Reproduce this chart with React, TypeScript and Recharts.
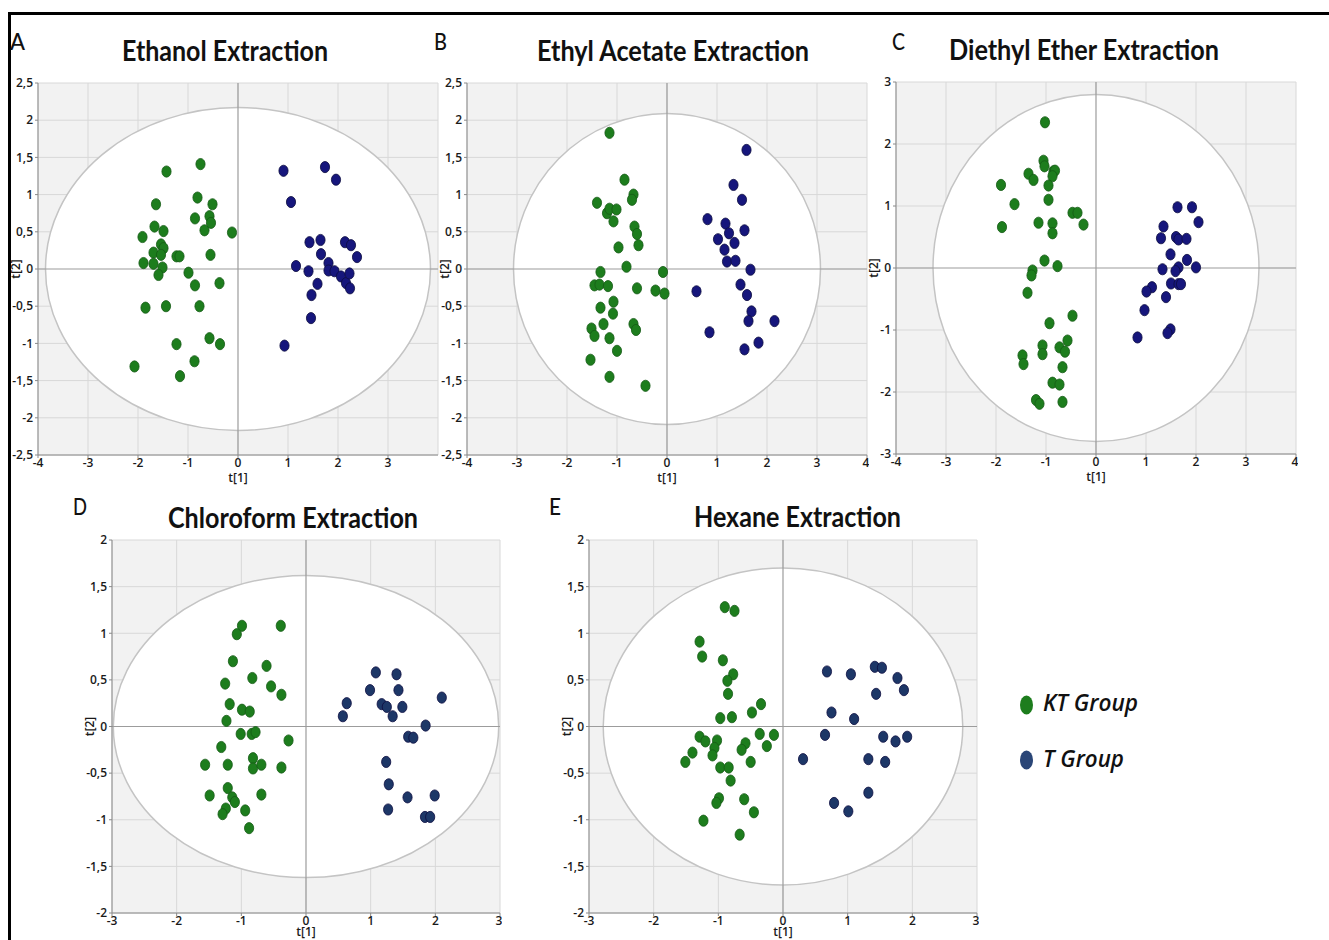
import { ScatterChart, Scatter, XAxis, YAxis, CartesianGrid, ReferenceArea, ReferenceLine } from 'recharts'

type Pt = { x: number; y: number }

// t[1] / t[2] scores
const ethanolKT: Pt[] = [
  { x: -2.07, y: -1.31 }, { x: -1.85, y: -0.52 }, { x: -1.91, y: 0.43 }, { x: -1.89, y: 0.08 },
  { x: -1.64, y: 0.87 }, { x: -1.67, y: 0.57 }, { x: -1.43, y: 1.31 }, { x: -1.49, y: 0.51 },
  { x: -1.69, y: 0.22 }, { x: -1.69, y: 0.07 }, { x: -1.54, y: 0.33 }, { x: -1.49, y: 0.28 },
  { x: -1.54, y: 0.19 }, { x: -1.51, y: 0.02 }, { x: -1.59, y: -0.08 }, { x: -1.44, y: -0.5 },
  { x: -1.23, y: 0.17 }, { x: -1.17, y: 0.17 }, { x: -1.23, y: -1.01 }, { x: -1.16, y: -1.44 },
  { x: -0.99, y: -0.05 }, { x: -0.86, y: -0.22 }, { x: -0.87, y: -1.24 }, { x: -0.81, y: 0.96 },
  { x: -0.86, y: 0.68 }, { x: -0.75, y: 1.41 }, { x: -0.77, y: -0.5 }, { x: -0.67, y: 0.52 },
  { x: -0.57, y: 0.71 }, { x: -0.54, y: 0.62 }, { x: -0.51, y: 0.87 }, { x: -0.55, y: 0.19 },
  { x: -0.57, y: -0.93 }, { x: -0.37, y: -0.19 }, { x: -0.36, y: -1.01 }, { x: -0.12, y: 0.49 },
]
const ethanolT: Pt[] = [
  { x: 0.91, y: 1.32 }, { x: 1.06, y: 0.9 }, { x: 1.16, y: 0.04 }, { x: 0.93, y: -1.03 },
  { x: 1.41, y: -0.03 }, { x: 1.43, y: 0.36 }, { x: 1.47, y: -0.35 }, { x: 1.46, y: -0.66 },
  { x: 1.59, y: -0.2 }, { x: 1.66, y: 0.2 }, { x: 1.65, y: 0.39 }, { x: 1.74, y: 1.37 },
  { x: 1.81, y: 0.08 }, { x: 1.81, y: -0.02 }, { x: 1.93, y: -0.03 }, { x: 1.96, y: 1.2 },
  { x: 2.06, y: -0.1 }, { x: 2.14, y: 0.36 }, { x: 2.16, y: -0.19 }, { x: 2.23, y: -0.06 },
  { x: 2.26, y: 0.32 }, { x: 2.24, y: -0.26 }, { x: 2.38, y: 0.16 },
]

const acetateKT: Pt[] = [
  { x: -1.15, y: 1.83 }, { x: -0.85, y: 1.2 }, { x: -1.4, y: 0.89 }, { x: -1.2, y: 0.75 },
  { x: -1.15, y: 0.81 }, { x: -1.01, y: 0.8 }, { x: -1.07, y: 0.64 }, { x: -0.67, y: 1.0 },
  { x: -0.7, y: 0.93 }, { x: -0.65, y: 0.57 }, { x: -0.6, y: 0.47 }, { x: -0.57, y: 0.32 },
  { x: -0.97, y: 0.29 }, { x: -0.81, y: 0.03 }, { x: -1.33, y: -0.04 }, { x: -1.45, y: -0.22 },
  { x: -1.35, y: -0.21 }, { x: -1.18, y: -0.23 }, { x: -0.6, y: -0.26 }, { x: -1.07, y: -0.44 },
  { x: -1.33, y: -0.52 }, { x: -1.08, y: -0.6 }, { x: -1.27, y: -0.74 }, { x: -1.51, y: -0.8 },
  { x: -1.45, y: -0.9 }, { x: -1.15, y: -0.93 }, { x: -0.67, y: -0.74 }, { x: -0.62, y: -0.82 },
  { x: -1.0, y: -1.1 }, { x: -1.53, y: -1.22 }, { x: -1.15, y: -1.45 }, { x: -0.43, y: -1.57 },
  { x: -0.23, y: -0.29 }, { x: -0.08, y: -0.04 }, { x: -0.05, y: -0.33 },
]
const acetateT: Pt[] = [
  { x: 1.59, y: 1.6 }, { x: 1.33, y: 1.13 }, { x: 1.5, y: 0.93 }, { x: 0.81, y: 0.67 },
  { x: 1.17, y: 0.61 }, { x: 1.24, y: 0.48 }, { x: 1.02, y: 0.4 }, { x: 1.55, y: 0.52 },
  { x: 1.35, y: 0.35 }, { x: 1.15, y: 0.26 }, { x: 1.2, y: 0.1 }, { x: 1.37, y: 0.11 },
  { x: 1.67, y: -0.01 }, { x: 1.47, y: -0.21 }, { x: 1.6, y: -0.35 }, { x: 0.59, y: -0.3 },
  { x: 1.69, y: -0.57 }, { x: 1.63, y: -0.7 }, { x: 2.15, y: -0.7 }, { x: 0.85, y: -0.85 },
  { x: 1.83, y: -0.99 }, { x: 1.55, y: -1.08 },
]

const etherKT: Pt[] = [
  { x: -1.02, y: 2.35 }, { x: -1.05, y: 1.73 }, { x: -1.03, y: 1.64 }, { x: -0.85, y: 1.56 },
  { x: -0.82, y: 1.57 }, { x: -0.87, y: 1.48 }, { x: -1.35, y: 1.52 }, { x: -1.25, y: 1.42 },
  { x: -0.95, y: 1.33 }, { x: -1.9, y: 1.34 }, { x: -0.95, y: 1.1 }, { x: -1.63, y: 1.03 },
  { x: -0.47, y: 0.89 }, { x: -0.37, y: 0.89 }, { x: -0.25, y: 0.7 }, { x: -1.15, y: 0.73 },
  { x: -0.87, y: 0.72 }, { x: -0.87, y: 0.56 }, { x: -1.88, y: 0.66 }, { x: -1.03, y: 0.12 },
  { x: -0.77, y: 0.03 }, { x: -1.27, y: -0.04 }, { x: -1.29, y: -0.12 }, { x: -1.37, y: -0.4 },
  { x: -0.47, y: -0.77 }, { x: -0.93, y: -0.89 }, { x: -0.57, y: -1.17 }, { x: -1.07, y: -1.25 },
  { x: -1.07, y: -1.39 }, { x: -0.73, y: -1.28 }, { x: -0.62, y: -1.35 }, { x: -1.47, y: -1.41 },
  { x: -1.45, y: -1.55 }, { x: -0.67, y: -1.6 }, { x: -0.87, y: -1.85 }, { x: -0.73, y: -1.88 },
  { x: -1.2, y: -2.13 }, { x: -1.13, y: -2.19 }, { x: -0.67, y: -2.16 },
]
const etherT: Pt[] = [
  { x: 1.63, y: 0.98 }, { x: 1.92, y: 0.98 }, { x: 2.05, y: 0.74 }, { x: 1.35, y: 0.67 },
  { x: 1.3, y: 0.48 }, { x: 1.6, y: 0.5 }, { x: 1.65, y: 0.46 }, { x: 1.81, y: 0.47 },
  { x: 1.49, y: 0.22 }, { x: 1.82, y: 0.13 }, { x: 1.33, y: -0.02 }, { x: 1.65, y: 0.01 },
  { x: 1.59, y: -0.05 }, { x: 2.0, y: 0.01 }, { x: 1.5, y: -0.25 }, { x: 1.65, y: -0.26 },
  { x: 1.7, y: -0.26 }, { x: 1.12, y: -0.31 }, { x: 1.01, y: -0.38 }, { x: 1.4, y: -0.47 },
  { x: 0.97, y: -0.68 }, { x: 1.49, y: -0.99 }, { x: 1.43, y: -1.05 }, { x: 0.83, y: -1.12 },
]

const chloroformKT: Pt[] = [
  { x: -0.99, y: 1.08 }, { x: -1.07, y: 0.99 }, { x: -0.39, y: 1.08 }, { x: -1.13, y: 0.7 },
  { x: -0.61, y: 0.65 }, { x: -0.83, y: 0.52 }, { x: -1.25, y: 0.46 }, { x: -0.54, y: 0.43 },
  { x: -0.38, y: 0.34 }, { x: -1.18, y: 0.24 }, { x: -0.99, y: 0.18 }, { x: -0.87, y: 0.16 },
  { x: -1.23, y: 0.06 }, { x: -1.01, y: -0.08 }, { x: -0.84, y: -0.08 }, { x: -0.78, y: -0.06 },
  { x: -0.27, y: -0.15 }, { x: -1.31, y: -0.22 }, { x: -1.56, y: -0.41 }, { x: -1.21, y: -0.41 },
  { x: -0.82, y: -0.34 }, { x: -0.82, y: -0.45 }, { x: -0.69, y: -0.41 }, { x: -0.38, y: -0.44 },
  { x: -1.49, y: -0.74 }, { x: -1.21, y: -0.66 }, { x: -1.14, y: -0.76 }, { x: -1.1, y: -0.81 },
  { x: -0.69, y: -0.73 }, { x: -1.24, y: -0.88 }, { x: -1.29, y: -0.94 }, { x: -0.94, y: -0.9 },
  { x: -0.88, y: -1.09 },
]
const chloroformT: Pt[] = [
  { x: 1.08, y: 0.58 }, { x: 1.4, y: 0.56 }, { x: 0.99, y: 0.39 }, { x: 1.43, y: 0.39 },
  { x: 0.63, y: 0.25 }, { x: 1.17, y: 0.24 }, { x: 1.25, y: 0.21 }, { x: 1.49, y: 0.21 },
  { x: 2.1, y: 0.31 }, { x: 0.57, y: 0.11 }, { x: 1.34, y: 0.11 }, { x: 1.85, y: 0.01 },
  { x: 1.58, y: -0.11 }, { x: 1.66, y: -0.12 }, { x: 1.24, y: -0.38 }, { x: 1.28, y: -0.62 },
  { x: 1.57, y: -0.76 }, { x: 1.99, y: -0.74 }, { x: 1.27, y: -0.89 }, { x: 1.84, y: -0.97 },
  { x: 1.92, y: -0.97 },
]

const hexaneKT: Pt[] = [
  { x: -0.9, y: 1.28 }, { x: -0.75, y: 1.24 }, { x: -1.29, y: 0.91 }, { x: -1.25, y: 0.75 },
  { x: -0.93, y: 0.71 }, { x: -0.77, y: 0.56 }, { x: -0.86, y: 0.49 }, { x: -0.85, y: 0.35 },
  { x: -0.34, y: 0.24 }, { x: -0.48, y: 0.15 }, { x: -0.97, y: 0.09 }, { x: -0.79, y: 0.1 },
  { x: -1.29, y: -0.11 }, { x: -1.2, y: -0.16 }, { x: -1.02, y: -0.15 }, { x: -1.06, y: -0.23 },
  { x: -1.09, y: -0.31 }, { x: -1.4, y: -0.28 }, { x: -1.51, y: -0.38 }, { x: -0.36, y: -0.08 },
  { x: -0.14, y: -0.09 }, { x: -0.58, y: -0.18 }, { x: -0.64, y: -0.25 }, { x: -0.25, y: -0.21 },
  { x: -0.5, y: -0.38 }, { x: -0.97, y: -0.44 }, { x: -0.84, y: -0.44 }, { x: -0.81, y: -0.58 },
  { x: -0.99, y: -0.77 }, { x: -1.03, y: -0.82 }, { x: -0.6, y: -0.78 }, { x: -0.45, y: -0.92 },
  { x: -1.23, y: -1.01 }, { x: -0.67, y: -1.16 },
]
const hexaneT: Pt[] = [
  { x: 0.68, y: 0.59 }, { x: 1.05, y: 0.56 }, { x: 1.42, y: 0.64 }, { x: 1.53, y: 0.63 },
  { x: 1.77, y: 0.52 }, { x: 1.87, y: 0.39 }, { x: 1.44, y: 0.35 }, { x: 0.75, y: 0.15 },
  { x: 1.1, y: 0.08 }, { x: 0.65, y: -0.09 }, { x: 1.55, y: -0.11 }, { x: 1.74, y: -0.16 },
  { x: 1.92, y: -0.11 }, { x: 0.31, y: -0.35 }, { x: 1.32, y: -0.35 }, { x: 1.58, y: -0.38 },
  { x: 1.32, y: -0.71 }, { x: 0.79, y: -0.82 }, { x: 1.01, y: -0.91 },
]

// Hotelling T2 ellipse half-axes [t1, t2]
const ethanolEllipse = [3.85, 2.17]
const acetateEllipse = [3.07, 2.09]
const etherEllipse = [3.26, 2.8]
const chloroformEllipse = [2.98, 1.62]
const hexaneEllipse = [2.78, 1.7]

const xTicksA = [-4, -3, -2, -1, 0, 1, 2, 3]
const xTicks4 = [-4, -3, -2, -1, 0, 1, 2, 3, 4]
const xTicks3 = [-3, -2, -1, 0, 1, 2, 3]
const yTicks25 = [-2.5, -2, -1.5, -1, -0.5, 0, 0.5, 1, 1.5, 2, 2.5]
const yTicks3 = [-3, -2, -1, 0, 1, 2, 3]
const yTicks2 = [-2, -1.5, -1, -0.5, 0, 0.5, 1, 1.5, 2]

const GREEN = '#1d7d1d'
const NAVY = '#16167c'
const SLATE = '#1d3767'

const fmt = (v: number) => String(v).replace('.', ',')
const tickStyle = { fontSize: 12, fill: '#1a1a1a', fontFamily: 'Open Sans', fontWeight: 600 }
const axisLabelStyle = { fontSize: 12, fill: '#1a1a1a', fontFamily: 'Open Sans', fontWeight: 600 }

const EllipseShape = (p: any) => (
  <ellipse cx={p.x + p.width / 2} cy={p.y + p.height / 2} rx={p.width / 2} ry={p.height / 2}
    fill="#ffffff" stroke="#c4c4c4" strokeWidth={1.5} />
)

const dot = (fill: string, stroke: string) => (p: any) => (
  <ellipse cx={p.cx} cy={p.cy} rx={4.6} ry={5.6} fill={fill} stroke={stroke} strokeWidth={0.8} />
)

interface PanelProps {
  px: number; py: number; pw: number; ph: number
  kt: Pt[]; t: Pt[]; blue: string
  xDomain: number[]; xTicks: number[]; yDomain: number[]; yTicks: number[]
  ellipse: number[]; labelOffset: number
}

function Panel({ px, py, pw, ph, kt, t, blue, xDomain, xTicks, yDomain, yTicks, ellipse, labelOffset }: PanelProps) {
  return (
    <div style={{ position: 'absolute', left: px - 34, top: py - 8 }}>
      <ScatterChart width={pw + 36} height={ph + 44} margin={{ top: 8, right: 2, bottom: 0, left: 0 }}>
        <CartesianGrid fill="#f2f2f2" stroke="#d8d8d8" />
        <XAxis type="number" dataKey="x" domain={xDomain} ticks={xTicks} allowDataOverflow height={36}
          tick={tickStyle} tickSize={3} tickMargin={0} stroke="#8a8a8a" tickFormatter={fmt}
          label={{ value: 't[1]', position: 'insideBottom', offset: labelOffset, style: axisLabelStyle }} />
        <YAxis type="number" dataKey="y" domain={yDomain} ticks={yTicks} allowDataOverflow width={34}
          tick={tickStyle} tickSize={3} tickMargin={2} stroke="#8a8a8a" tickFormatter={fmt}
          label={{ value: 't[2]', angle: -90, position: 'insideLeft', offset: 12, style: { ...axisLabelStyle, textAnchor: 'middle' } }} />
        <ReferenceArea x1={-ellipse[0]} x2={ellipse[0]} y1={-ellipse[1]} y2={ellipse[1]} shape={EllipseShape} />
        <ReferenceLine x={0} stroke="#9c9c9c" strokeWidth={1.2} />
        <ReferenceLine y={0} stroke="#9c9c9c" strokeWidth={1.2} />
        <Scatter data={kt} shape={dot(GREEN, '#155a15')} isAnimationActive={false} />
        <Scatter data={t} shape={dot(blue, '#0c0c40')} isAnimationActive={false} />
      </ScatterChart>
    </div>
  )
}

const titleFont = { fontFamily: 'Lato', fontWeight: 700, fontSize: 28, fill: '#111' }
const letterFont = { fontFamily: 'Lato', fontWeight: 500, fontSize: 23, fill: '#111' }
const legendFont = { fontFamily: 'Open Sans', fontStyle: 'italic' as const, fontWeight: 600, fontSize: 23, fill: '#111' }

export default function App() {
  return (
    <div style={{ position: 'absolute', left: 0, top: 0, width: 1329, height: 940, background: '#fff', overflow: 'hidden' }}>
      <Panel px={38} py={83} pw={400} ph={372} kt={ethanolKT} t={ethanolT} blue={NAVY} labelOffset={9}
        xDomain={[-4, 4]} xTicks={xTicksA} yDomain={[-2.5, 2.5]} yTicks={yTicks25} ellipse={ethanolEllipse} />
      <Panel px={467} py={83} pw={400} ph={372} kt={acetateKT} t={acetateT} blue={NAVY} labelOffset={9}
        xDomain={[-4, 4]} xTicks={xTicks4} yDomain={[-2.5, 2.5]} yTicks={yTicks25} ellipse={acetateEllipse} />
      <Panel px={896} py={82} pw={400} ph={372} kt={etherKT} t={etherT} blue={NAVY} labelOffset={9}
        xDomain={[-4, 4]} xTicks={xTicks4} yDomain={[-3, 3]} yTicks={yTicks3} ellipse={etherEllipse} />
      <Panel px={112} py={540} pw={388} ph={373} kt={chloroformKT} t={chloroformT} blue={SLATE} labelOffset={13}
        xDomain={[-3, 3]} xTicks={xTicks3} yDomain={[-2, 2]} yTicks={yTicks2} ellipse={chloroformEllipse} />
      <Panel px={589} py={540} pw={388} ph={373} kt={hexaneKT} t={hexaneT} blue={SLATE} labelOffset={13}
        xDomain={[-3, 3]} xTicks={xTicks3} yDomain={[-2, 2]} yTicks={yTicks2} ellipse={hexaneEllipse} />

      <svg width={1329} height={940} style={{ position: 'absolute', left: 0, top: 0, pointerEvents: 'none' }}>
        <line x1={8} y1={13.5} x2={1329} y2={13.5} stroke="#000" strokeWidth={3} />
        <line x1={9.5} y1={12} x2={9.5} y2={940} stroke="#000" strokeWidth={3} />

        <text x={10} y={50} {...letterFont} textLength={15} lengthAdjust="spacingAndGlyphs">A</text>
        <text x={434} y={50} {...letterFont} textLength={13} lengthAdjust="spacingAndGlyphs">B</text>
        <text x={892} y={50} {...letterFont} textLength={13} lengthAdjust="spacingAndGlyphs">C</text>
        <text x={73} y={515} {...letterFont} textLength={14} lengthAdjust="spacingAndGlyphs">D</text>
        <text x={549} y={515} {...letterFont} textLength={12} lengthAdjust="spacingAndGlyphs">E</text>

        <text x={122} y={61} {...titleFont} textLength={206} lengthAdjust="spacingAndGlyphs">Ethanol Extraction</text>
        <text x={537} y={61} {...titleFont} textLength={272} lengthAdjust="spacingAndGlyphs">Ethyl Acetate Extraction</text>
        <text x={949} y={60} {...titleFont} textLength={270} lengthAdjust="spacingAndGlyphs">Diethyl Ether Extraction</text>
        <text x={168} y={528} {...titleFont} textLength={250} lengthAdjust="spacingAndGlyphs">Chloroform Extraction</text>
        <text x={694} y={527} {...titleFont} textLength={207} lengthAdjust="spacingAndGlyphs">Hexane Extraction</text>

        <ellipse cx={1026.5} cy={705} rx={6.5} ry={9.5} fill={GREEN} />
        <text x={1043} y={711} {...legendFont} textLength={95} lengthAdjust="spacingAndGlyphs">KT Group</text>
        <ellipse cx={1026.5} cy={760} rx={6.5} ry={9.5} fill="#2a4677" />
        <text x={1043} y={767} {...legendFont} textLength={81} lengthAdjust="spacingAndGlyphs">T Group</text>
      </svg>
    </div>
  )
}
